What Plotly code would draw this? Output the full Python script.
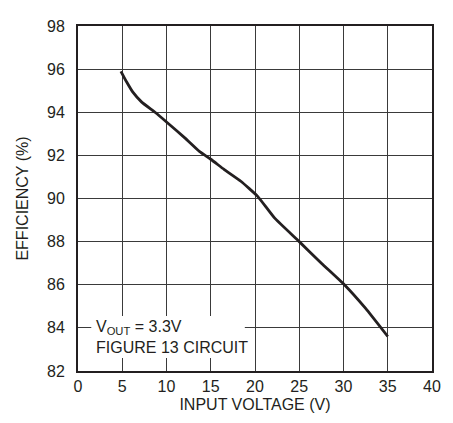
import plotly.graph_objects as go

# Data
vin = [4.85, 5.5, 6.2, 7.2, 8.7, 10.0, 12.1, 13.75, 15.0, 16.5, 18.4, 20.3, 22.2, 25.0, 27.5, 30.1, 32.5, 35.0]
eff = [95.9, 95.4, 94.93, 94.47, 94.0, 93.55, 92.8, 92.17, 91.82, 91.35, 90.8, 90.1, 89.1, 88.0, 87.0, 86.0, 84.9, 83.6]

x_ticks = [0, 5, 10, 15, 20, 25, 30, 35, 40]
y_ticks = [82, 84, 86, 88, 90, 92, 94, 96, 98]

FONT = "Liberation Sans Narrow, Arial Narrow, Liberation Sans, Arial, sans-serif"
INK = "#231f20"
FS = 16

fig = go.Figure()
fig.add_trace(go.Scatter(
    x=vin, y=eff, mode="lines",
    line=dict(color=INK, width=2.8, shape="spline", smoothing=0.4),
    hoverinfo="skip", showlegend=False,
))

# white box behind the note
fig.add_shape(type="rect", xref="x", yref="y", x0=1.5, x1=18.85, y0=82.6, y1=84.55,
              fillcolor="white", line=dict(width=0), layer="above")

fig.add_annotation(x=1.85, y=84.0, xref="x", yref="y", xanchor="left", yanchor="middle",
                   text="V<sub>OUT</sub> = 3.3V", showarrow=False,
                   font=dict(family=FONT, size=FS, color=INK))
fig.add_annotation(x=1.85, y=83.1, xref="x", yref="y", xanchor="left", yanchor="middle",
                   text="FIGURE 13 CIRCUIT", showarrow=False,
                   font=dict(family=FONT, size=FS, color=INK))

axis_common = dict(
    showgrid=True, gridcolor="#3a3a3a", gridwidth=1,
    showline=True, linecolor=INK, linewidth=2, mirror=True,
    ticks="", zeroline=False,
    tickfont=dict(family=FONT, size=FS, color=INK),
)

fig.update_xaxes(range=[0, 40], tickvals=x_ticks, ticktext=[str(v) for v in x_ticks],
                 ticklabelstandoff=0,
                 title=dict(text="INPUT VOLTAGE (V)", font=dict(family=FONT, size=FS, color=INK), standoff=5),
                 **axis_common)
fig.update_yaxes(range=[82, 98], tickvals=y_ticks, ticktext=[str(v) for v in y_ticks],
                 ticklabelstandoff=8,
                 title=dict(text="EFFICIENCY (%)", font=dict(family=FONT, size=FS, color=INK), standoff=14),
                 **axis_common)

fig.update_layout(
    width=453, height=423,
    margin=dict(l=70, r=29, t=10, b=60),
    paper_bgcolor="white", plot_bgcolor="white",
    font=dict(family=FONT, color=INK),
)

fig.write_html("out.html")
